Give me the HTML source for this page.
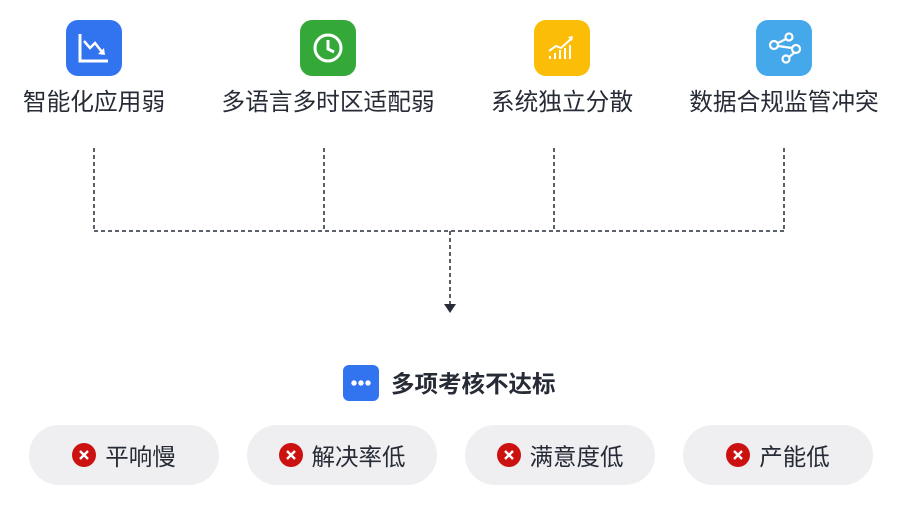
<!DOCTYPE html>
<html><head><meta charset="utf-8"><style>
body{margin:0;width:901px;height:516px;background:#fff;position:relative;overflow:hidden;font-family:"Liberation Sans","Noto Sans CJK SC",sans-serif;color:#262b36}
.ic{position:absolute;top:20px;width:56px;height:56px;border-radius:12px}
.lb{position:absolute;top:87px;font-size:23.7px;width:300px;text-align:center;line-height:32px}
.pill{position:absolute;top:425px;width:190px;height:60px;border-radius:30px;background:#efeff2;display:flex;align-items:center;justify-content:center;font-size:23.5px}
.x{width:24px;height:24px;margin-right:9px;display:block}
</style></head><body>
<div class="ic" style="left:66px;background:#3273f0"><svg width="56" height="56"><path d="M14 14V41H42" stroke="#fff" stroke-width="3" fill="none"/><path d="M18 21L24 28L29 23L36 32" stroke="#fff" stroke-width="2.5" fill="none"/><path d="M32 34L39 35L38 28Z" fill="#fff"/></svg></div>
<div class="ic" style="left:300px;background:#35a83a"><svg width="56" height="56"><circle cx="28" cy="28" r="13" stroke="#fff" stroke-width="3" fill="none"/><path d="M28 20V29L34 32" stroke="#fff" stroke-width="3" fill="none"/></svg></div>
<div class="ic" style="left:534px;background:#fbbd08"><svg width="56" height="56"><g stroke="#fff" stroke-width="2"><path d="M16 39v-3M21 39v-6M26 39v-9M31 39v-11M36 39v-14"/><path d="M15 31L22 26L27 28L38 18" fill="none"/></g><path d="M34 17L39 16L38 21Z" fill="#fff"/></svg></div>
<div class="ic" style="left:756px;background:#45a8ea"><svg width="56" height="56"><g stroke="#fff" stroke-width="2.2" fill="none"><circle cx="18" cy="25" r="4"/><circle cx="33" cy="17" r="3.5"/><circle cx="40" cy="29" r="4"/><circle cx="30" cy="39" r="3.5"/><path d="M22 23L30 19M22 26L36 28M38 33L33 37"/></g></svg></div>
<div class="lb" style="left:-56px">智能化应用弱</div>
<div class="lb" style="left:178px">多语言多时区适配弱</div>
<div class="lb" style="left:412px">系统独立分散</div>
<div class="lb" style="left:634px">数据合规监管冲突</div>
<svg style="position:absolute;left:0;top:0" width="901" height="516"><g stroke="#262b36" stroke-width="1.5" stroke-dasharray="4 3" fill="none"><path d="M94 148V231M324 148V231M554 148V231M784 148V231M94 231H784M450 231V304"/></g><path d="M444 304H456L450 313Z" fill="#262b36"/></svg>
<div style="position:absolute;left:343px;top:365px;width:36px;height:36px;border-radius:6px;background:#3273f0"><svg width="36" height="36"><g fill="#fff"><circle cx="11" cy="18" r="2.7"/><circle cx="18" cy="18" r="2.7"/><circle cx="25" cy="18" r="2.7"/></g></svg></div>
<div style="position:absolute;left:391px;top:367px;font-size:23.5px;font-weight:bold;line-height:34px">多项考核不达标</div>
<div class="pill" style="left:29px"><svg class="x"><circle cx="12" cy="12" r="12" fill="#cc1111"/><path d="M8 8L16 16M16 8L8 16" stroke="#fff" stroke-width="2.4"/></svg>平响慢</div>
<div class="pill" style="left:247px"><svg class="x"><circle cx="12" cy="12" r="12" fill="#cc1111"/><path d="M8 8L16 16M16 8L8 16" stroke="#fff" stroke-width="2.4"/></svg>解决率低</div>
<div class="pill" style="left:465px"><svg class="x"><circle cx="12" cy="12" r="12" fill="#cc1111"/><path d="M8 8L16 16M16 8L8 16" stroke="#fff" stroke-width="2.4"/></svg>满意度低</div>
<div class="pill" style="left:683px"><svg class="x"><circle cx="12" cy="12" r="12" fill="#cc1111"/><path d="M8 8L16 16M16 8L8 16" stroke="#fff" stroke-width="2.4"/></svg>产能低</div>
</body></html>
